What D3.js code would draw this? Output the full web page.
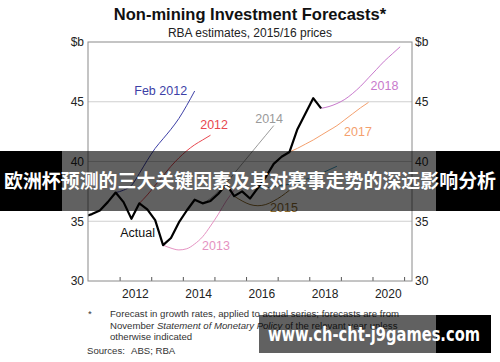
<!DOCTYPE html>
<html>
<head>
<meta charset="utf-8">
<script src="https://cdn.jsdelivr.net/npm/d3@7"></script>
<style>
  body { margin: 0; background: #fff; }
  svg { display: block; font-family: "Liberation Sans", Arial, sans-serif; }
</style>
</head>
<body>
<svg id="chart" width="500" height="362"></svg>
<script>
// quarterly series, each one given by its first quarter and values ($b)
const actualStart = '2010Q4'
const actual = [35.4, 35.6, 35.9, 36.6, 37.4, 36.6, 35.2, 36.5, 36.0, 35.1, 33.0, 33.6, 34.9, 35.9,
  36.8, 36.5, 36.7, 37.3, 38.1, 37.1, 37.5, 36.9, 37.8, 38.7, 39.8, 40.4, 40.8, 42.7, 44.0, 45.3, 44.45]

const forecastNames = ['Feb 2012', '2012', '2013', '2014', '2015', '2016', '2017', '2018']
const forecastStarts = ['2011Q4', '2012Q3', '2013Q2', '2014Q3', '2015Q3', '2016Q2', '2017Q2', '2018Q2']
const feb2012 = [37.4, 37.6, 38.0, 39.0, 40.1, 41.1, 41.9, 42.7, 43.6, 44.7, 45.9]
const f2012 = [36.5, 37.2, 38.0, 38.8, 39.6, 40.3, 40.9, 41.4, 41.8, 42.2]
const f2013 = [33.0, 32.75, 32.6, 32.7, 33.1, 33.7, 34.6, 35.6, 36.7, 37.6]
const f2014 = [36.5, 36.9, 37.5, 38.2, 39.0, 39.8, 40.6, 41.4, 42.2, 43.0]
const f2015 = [37.1, 36.7, 36.4, 36.3, 36.4, 36.7, 37.1, 37.6]
const f2016 = [37.8, 37.8, 37.9, 38.0, 38.1, 38.3, 38.5, 38.7, 39.0, 39.3, 39.6]
const f2017 = [40.8, 41.1, 41.45, 41.8, 42.2, 42.6, 43.0, 43.5, 44.0, 44.5, 44.95]
const f2018 = [44.45, 44.6, 44.85, 45.2, 45.7, 46.3, 47.0, 47.7, 48.4, 49.0, 49.6]
const forecastValues = [feb2012, f2012, f2013, f2014, f2015, f2016, f2017, f2018]
const forecastColors = ['#3d3fa6', '#e8474f', '#e592c2', '#9a9a9a', '#8c6b2f', '#3e9cc0', '#f4a06e', '#c879cc']

const yTicks = [30, 35, 40, 45]
const yearLabels = [2012, 2014, 2016, 2018, 2020]
const yearTicks = [2012, 2013, 2014, 2015, 2016, 2017, 2018, 2019, 2020, 2021]

// label positions, [x, y] in data units (year, $b)
const labelPos = {
  'Feb 2012': [2013.3, 45.56], '2012': [2014.99, 42.7], '2013': [2015.05, 32.6], '2014': [2016.73, 43.2],
  '2015': [2017.2, 35.8], '2017': [2019.54, 42.1], '2018': [2020.38, 46.0], 'Actual': [2012.57, 33.7]
}

const margin = {left: 88, right: 88, top: 42, bottom: 81}
const width = 500 - margin.left - margin.right
const height = 362 - margin.top - margin.bottom

const qToYear = q => +q.slice(0, 4) + (+q.slice(5) - 0.5) / 4
const toPoints = (start, vals) => vals.map((v, i) => ({t: qToYear(start) + i * 0.25, v: v}))

const svg = d3.select('#chart')

svg.append('text').attr('x', 250).attr('y', 20).attr('text-anchor', 'middle')
  .attr('font-size', 16.5).attr('font-weight', 'bold').attr('fill', '#111')
  .text('Non-mining Investment Forecasts*')
svg.append('text').attr('x', 250).attr('y', 37).attr('text-anchor', 'middle')
  .attr('font-size', 12).attr('fill', '#222')
  .text('RBA estimates, 2015/16 prices')

const x = d3.scaleLinear().domain([2011, 2021.25]).range([0, width])
const y = d3.scaleLinear().domain([30, 50]).range([height, 0])

const chart = svg.append('g').attr('transform', `translate(${margin.left}, ${margin.top})`)

chart.append('clipPath').attr('id', 'plot-clip')
  .append('rect').attr('width', width).attr('height', height)

// grid
chart.append('g').selectAll('line').data(yTicks.slice(1)).enter().append('line')
  .attr('x1', 0).attr('x2', width)
  .attr('y1', d => y(d)).attr('y2', d => y(d))
  .attr('stroke', '#cfcfcf').attr('stroke-width', 1)

// left and right axes
const leftAxis = chart.append('g').call(d3.axisLeft(y).tickValues(yTicks).tickSize(0).tickPadding(4))
const rightAxis = chart.append('g').attr('transform', `translate(${width}, 0)`)
  .call(d3.axisRight(y).tickValues(yTicks).tickSize(0).tickPadding(3))
;[leftAxis, rightAxis].forEach(a => {
  a.select('.domain').remove()
  a.selectAll('text').attr('font-size', 12).attr('font-family', '"Liberation Sans", Arial, sans-serif').attr('fill', '#222')
})
chart.append('text').attr('x', -4).attr('y', 4).attr('text-anchor', 'end')
  .attr('font-size', 12).attr('fill', '#222').text('$b')
chart.append('text').attr('x', width + 3).attr('y', 4)
  .attr('font-size', 12).attr('fill', '#222').text('$b')

// bottom axis: ticks on year boundaries, labels centred in the year
const bottom = chart.append('g').attr('transform', `translate(0, ${height})`)
  .call(d3.axisBottom(x).tickValues(yearTicks).tickSize(-4).tickFormat(''))
bottom.select('.domain').remove()
bottom.selectAll('line').attr('stroke', '#555')
chart.append('g').selectAll('text').data(yearLabels).enter().append('text')
  .attr('x', d => x(d + 0.5)).attr('y', height + 17).attr('text-anchor', 'middle')
  .attr('font-size', 12).attr('fill', '#222').text(d => d)

const line = d3.line().x(d => x(d.t)).y(d => y(d.v)).curve(d3.curveMonotoneX)
const lines = chart.append('g').attr('clip-path', 'url(#plot-clip)')

forecastNames.forEach((name, i) => {
  lines.append('path').datum(toPoints(forecastStarts[i], forecastValues[i]))
    .attr('d', line).attr('fill', 'none')
    .attr('stroke', forecastColors[i]).attr('stroke-width', 1)
})
lines.append('path').datum(toPoints(actualStart, actual))
  .attr('d', d3.line().x(d => x(d.t)).y(d => y(d.v)))
  .attr('fill', 'none').attr('stroke', '#000').attr('stroke-width', 2.2)
  .attr('stroke-linejoin', 'round')

forecastNames.forEach((name, i) => {
  if (!labelPos[name]) return
  chart.append('text').attr('x', x(labelPos[name][0])).attr('y', y(labelPos[name][1]))
    .attr('text-anchor', 'middle').attr('font-size', 12.5)
    .attr('fill', forecastColors[i]).text(name)
})
chart.append('text').attr('x', x(labelPos.Actual[0])).attr('y', y(labelPos.Actual[1]))
  .attr('text-anchor', 'middle').attr('font-size', 12.5).attr('fill', '#111').text('Actual')

chart.append('rect').attr('width', width).attr('height', height)
  .attr('fill', 'none').attr('stroke', '#8a8a8a').attr('stroke-width', 1)

// footnotes
const note = svg.append('g').attr('font-size', 9.6).attr('fill', '#333')
note.append('text').attr('x', 88).attr('y', 317).text('*')
note.append('text').attr('x', 110).attr('y', 317)
  .text('Forecast in growth rates, applied to actual series; forecasts are from')
const l2 = note.append('text').attr('x', 110).attr('y', 328.5)
l2.append('tspan').text('November ')
l2.append('tspan').attr('font-style', 'italic').text('Statement of Monetary Policy')
l2.append('tspan').text(' of the relevant year unless')
note.append('text').attr('x', 110).attr('y', 340).text('otherwise indicated')
note.append('text').attr('x', 87).attr('y', 354).text('Sources:')
note.append('text').attr('x', 131).attr('y', 354).text('ABS; RBA')

// caption band: dimmed over the chart picture, solid black at the sides
svg.append('rect').attr('x', 62).attr('y', 151).attr('width', 374).attr('height', 60).attr('fill', 'rgba(0,0,0,0.62)')
svg.append('rect').attr('x', 0).attr('y', 151).attr('width', 62).attr('height', 60).attr('fill', '#000')
svg.append('rect').attr('x', 436).attr('y', 151).attr('width', 64).attr('height', 60).attr('fill', '#000')
svg.append('text').attr('x', 250).attr('y', 188).attr('text-anchor', 'middle')
  .attr('font-family', '"Noto Sans CJK SC", sans-serif').attr('font-weight', 'bold')
  .attr('font-size', 19).attr('fill', '#fff')
  .attr('textLength', 492).attr('lengthAdjust', 'spacingAndGlyphs')
  .text('欧洲杯预测的三大关键因素及其对赛事走势的深远影响分析')

// site box
svg.append('rect').attr('x', 259).attr('y', 315).attr('width', 177).attr('height', 38).attr('fill', 'rgba(0,0,0,0.62)')
svg.append('rect').attr('x', 436).attr('y', 315).attr('width', 55).attr('height', 38).attr('fill', '#000')
svg.append('text').attr('x', 268).attr('y', 341)
  .attr('font-family', '"DejaVu Sans", sans-serif').attr('font-weight', 'bold')
  .attr('font-size', 20).attr('fill', '#fff')
  .attr('textLength', 212).attr('lengthAdjust', 'spacingAndGlyphs')
  .text('www.ch-cht-j9games.com')
</script>
</body>
</html>
